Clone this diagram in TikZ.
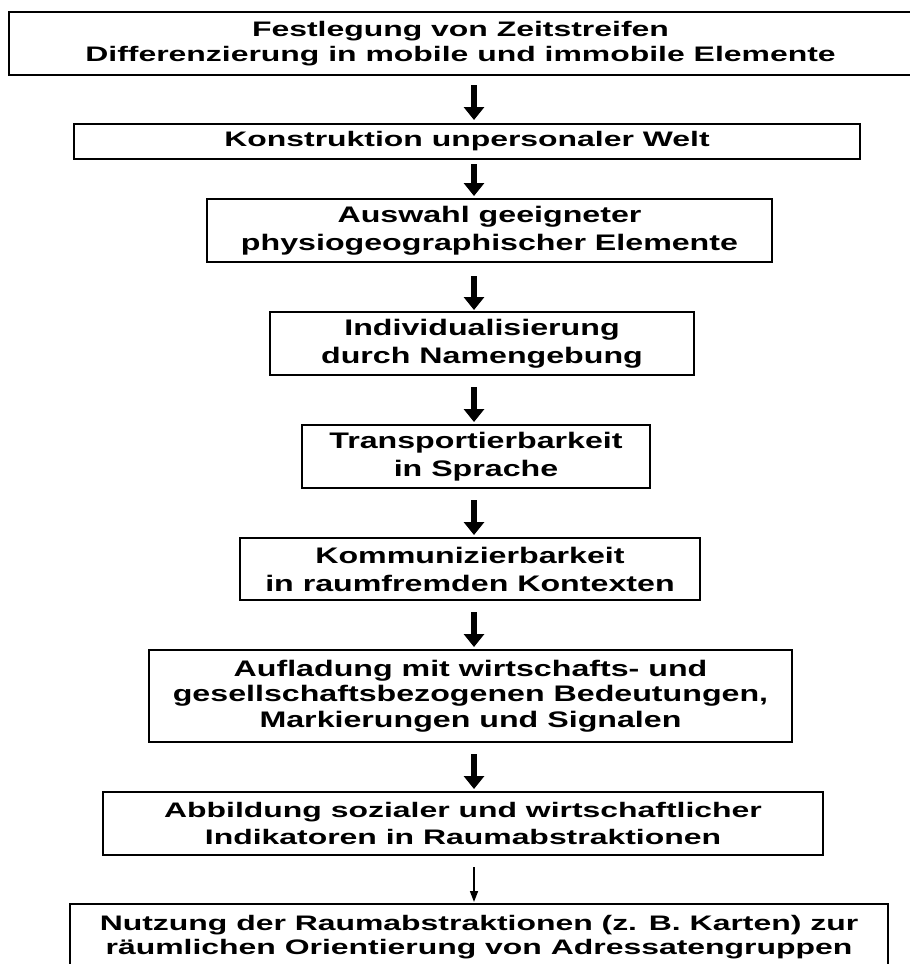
\documentclass[tikz,border=0pt]{standalone}
\usepackage{fontspec}
\newfontfamily\fa{Liberation Sans Bold}[FakeStretch=1.52]
\newfontfamily\fb{Liberation Sans Bold}[FakeStretch=1.43]
\usetikzlibrary{arrows.meta,calc}
\begin{document}
\begin{tikzpicture}[x=1pt,y=-1pt,
  box/.style={draw=black, line width=2.2pt, rectangle, inner sep=0pt, outer sep=0pt, align=center, text=black},
  narrowtxt/.style={font={\fa\fontsize{21}{25}\selectfont}},
  widetxt/.style={font={\fb\fontsize{22.5}{28}\selectfont}},
  bigarrow/.style={line width=6pt, -{Triangle[width=20pt,length=13pt]}},
  thinarrow/.style={line width=1.6pt, -{Triangle[width=8pt,length=11pt]}}]
\useasboundingbox (0,0) rectangle (910,964);
\fill[white] (0,0) rectangle (910,964);
\clip (0,0) rectangle (910,964);
\coordinate (ax) at (474,0);
\node[box, narrowtxt, minimum width=903pt, minimum height=63pt] (b1) at (460.5,43.5)
  {Festlegung von Zeitstreifen\\Differenzierung in mobile und immobile Elemente};
\node[box, narrowtxt, minimum width=786pt, minimum height=35pt] (b2) at (467,141.5)
  {Konstruktion unpersonaler Welt};
\node[box, widetxt, minimum width=565pt, minimum height=63pt] (b3) at (489.5,230.5)
  {Auswahl geeigneter\\physiogeographischer Elemente};
\node[box, widetxt, minimum width=424pt, minimum height=63pt] (b4) at (482,343.5)
  {Individualisierung\\durch Namengebung};
\node[box, widetxt, minimum width=348pt, minimum height=63pt] (b5) at (476,456.5)
  {Transportierbarkeit\\in Sprache};
\node[box, widetxt, minimum width=460pt, minimum height=62pt] (b6) at (470,569)
  {Kommunizierbarkeit\\in raumfremden Kontexten};
\node[box, font={\fb\fontsize{22.5}{25.5}\selectfont}, minimum width=643pt, minimum height=92pt] (b7) at (470.5,696)
  {Aufladung mit wirtschafts- und\\gesellschaftsbezogenen Bedeutungen,\\Markierungen und Signalen};
\node[box, font={\fa\fontsize{21}{27}\selectfont}, minimum width=720pt, minimum height=63pt] (b8) at (463,823.5)
  {Abbildung sozialer und wirtschaftlicher\\Indikatoren in Raumabstraktionen};
\node[box, font={\fa\fontsize{21}{24}\selectfont}, minimum width=818pt, minimum height=66pt] (b9) at (479,937)
  {Nutzung der Raumabstraktionen (z. B. Karten) zur\\räumlichen Orientierung von Adressatengruppen};
\draw[bigarrow] ($(b1.south -| ax)+(0,10)$) -- ($(b2.north -| ax)+(0,-4)$);
\draw[bigarrow] ($(b2.south -| ax)+(0,5)$) -- ($(b3.north -| ax)+(0,-3)$);
\draw[bigarrow] ($(b3.south -| ax)+(0,14)$) -- ($(b4.north -| ax)+(0,-2)$);
\draw[bigarrow] ($(b4.south -| ax)+(0,12)$) -- ($(b5.north -| ax)+(0,-3)$);
\draw[bigarrow] ($(b5.south -| ax)+(0,12)$) -- ($(b6.north -| ax)+(0,-3)$);
\draw[bigarrow] ($(b6.south -| ax)+(0,12)$) -- ($(b7.north -| ax)+(0,-3)$);
\draw[bigarrow] ($(b7.south -| ax)+(0,12)$) -- ($(b8.north -| ax)+(0,-3)$);
\draw[thinarrow] ($(b8.south -| ax)+(0,12)$) -- ($(b9.north -| ax)+(0,-2)$);
\end{tikzpicture}
\end{document}
